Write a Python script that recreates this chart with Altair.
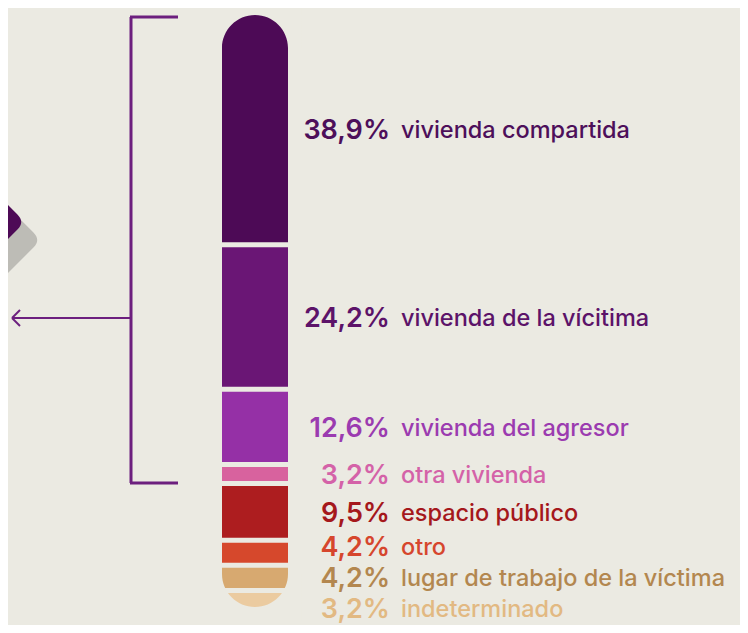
import altair as alt
import pandas as pd

categories = ["vivienda compartida", "vivienda de la vícitima", "vivienda del agresor",
              "otra vivienda", "espacio público", "otro",
              "lugar de trabajo de la víctima", "indeterminado"]
values = [38.9, 24.2, 12.6, 3.2, 9.5, 4.2, 4.2, 3.2]
groups = ["vivienda", "vivienda", "vivienda", "vivienda", "otros", "otros", "otros", "otros"]
bar_colors = ["#4d0a56", "#6a1675", "#9530a6", "#d8629e", "#ad1d1f", "#d6482c", "#d7a970", "#ebcba0"]
label_colors = ["#4d0f5a", "#5c1369", "#9b3bb0", "#d462a8", "#a5181c", "#d6462d", "#b3874f", "#e2b982"]

BG = "#ebeae2"
Y_TOP, Y_BOTTOM = 7, 604
PX_PER_UNIT = (Y_BOTTOM - Y_TOP) / 100.0
GAP = 5
R = 33

rows = []
acc = 0.0
for c, v, g, bc, lc in zip(categories, values, groups, bar_colors, label_colors):
    rows.append({"category": c, "value": v, "group": g, "start": acc, "end": acc + v,
                 "mid": acc + v / 2, "pct": f"{v:.1f}".replace(".", ",") + "%",
                 "bar_color": bc, "label_color": lc})
    acc += v
df = pd.DataFrame(rows)

# simple label dodge: keep labels at least ~31px apart
pos = list(df["mid"])
min_gap = 31 / PX_PER_UNIT
for _ in range(200):
    for i in range(len(pos) - 1):
        d = pos[i + 1] - pos[i]
        if d < min_gap:
            shift = (min_gap - d) / 2
            pos[i] -= shift
            pos[i + 1] += shift
df["label_y"] = pos

vivienda_total = float(df.loc[df.group == "vivienda", "value"].sum())

yscale = alt.Scale(domain=[0, 100], range=[Y_TOP, Y_BOTTOM])

base = alt.Chart(df)

bars = base.mark_rect(y2Offset=-GAP).encode(
    x=alt.value(214), x2=alt.value(280),
    y=alt.Y("start:Q", scale=yscale, axis=None), y2="end:Q",
    color=alt.Color("bar_color:N", scale=None, legend=None),
)

one = pd.DataFrame({"k": [0]})
bottom_mask = ("M -1.4 0 L -1 0 C -1 0.5523 -0.5523 1 0 1 C 0.5523 1 1 0.5523 1 0 "
               "L 1.4 0 L 1.4 1.4 L -1.4 1.4 Z")
top_mask = ("M -1.4 0 L -1 0 C -1 -0.5523 -0.5523 -1 0 -1 C 0.5523 -1 1 -0.5523 1 0 "
            "L 1.4 0 L 1.4 -1.4 L -1.4 -1.4 Z")
mask_top = alt.Chart(one).mark_point(shape=top_mask, filled=True, size=(2 * R) ** 2, color=BG,
                                     opacity=1).encode(x=alt.value(247), y=alt.value(Y_TOP + R))
mask_bot = alt.Chart(one).mark_point(shape=bottom_mask, filled=True, size=(2 * R) ** 2, color=BG,
                                     opacity=1).encode(
    x=alt.value(247), y=alt.value(Y_BOTTOM - GAP - R))

pct_text = base.mark_text(align="right", baseline="middle", font="Inter", fontSize=27,
                          fontWeight=600).encode(
    x=alt.value(382), y=alt.Y("label_y:Q", scale=yscale, axis=None), text="pct:N",
    color=alt.Color("label_color:N", scale=None, legend=None),
)
cat_text = base.mark_text(align="left", baseline="middle", font="Inter", fontSize=23.5,
                          fontWeight=500).encode(
    x=alt.value(393), y=alt.Y("label_y:Q", scale=yscale, axis=None), text="category:N",
    color=alt.Color("label_color:N", scale=None, legend=None),
)

LINE = "#6c1f7e"
brk = pd.DataFrame({"top": [0.0], "bottom": [vivienda_total]})
br_v = alt.Chart(brk).mark_rule(color=LINE, strokeWidth=3, yOffset=2, y2Offset=-3).encode(
    x=alt.value(123), y=alt.Y("top:Q", scale=yscale, axis=None), y2="bottom:Q")
br_t = alt.Chart(brk).mark_rule(color=LINE, strokeWidth=3, yOffset=2).encode(
    x=alt.value(122), x2=alt.value(170), y=alt.Y("top:Q", scale=yscale, axis=None))
br_b = alt.Chart(brk).mark_rule(color=LINE, strokeWidth=3, yOffset=-3).encode(
    x=alt.value(122), x2=alt.value(170), y=alt.Y("bottom:Q", scale=yscale, axis=None))
arrow = alt.Chart(one).mark_rule(color=LINE, strokeWidth=2).encode(
    x=alt.value(4), x2=alt.value(123), y=alt.value(310))
head1 = alt.Chart(one).mark_rule(color=LINE, strokeWidth=2).encode(
    x=alt.value(4), x2=alt.value(12), y=alt.value(310), y2=alt.value(302))
head2 = alt.Chart(one).mark_rule(color=LINE, strokeWidth=2).encode(
    x=alt.value(4), x2=alt.value(12), y=alt.value(310), y2=alt.value(318))

# partially visible icon at the left edge (rounded diamond with grey shadow)
diamond = ("M 0.82 -0.18 Q 1 0 0.82 0.18 L 0.18 0.82 Q 0 1 -0.18 0.82 L -0.82 0.18 "
           "Q -1 0 -0.82 -0.18 L -0.18 -0.82 Q 0 -1 0.18 -0.82 Z")
shadow = alt.Chart(one).mark_point(shape=diamond, filled=True, size=7056, color="#bdbcb6",
                                   opacity=1).encode(x=alt.value(-9), y=alt.value(232))
icon = alt.Chart(one).mark_point(shape=diamond, filled=True, size=7056, color="#4d0a56",
                                 opacity=1).encode(x=alt.value(-25), y=alt.value(214))

chart = alt.layer(shadow, icon, br_v, br_t, br_b, arrow, head1, head2,
                  bars, mask_top, mask_bot, pct_text, cat_text).properties(
    width=732, height=617, background=BG, padding=0,
    autosize=alt.AutoSizeParams(type="none")
).configure_view(stroke=None)

chart.save("out.html", embed_options={"renderer": "svg", "actions": False})
